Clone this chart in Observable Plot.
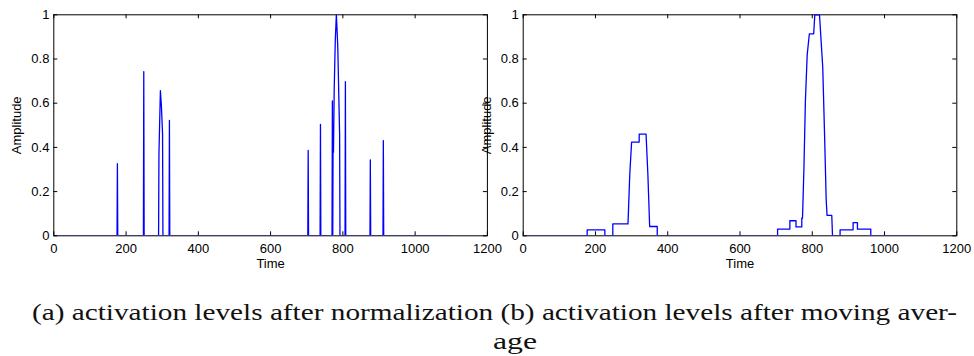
<!DOCTYPE html>
<html>
<head>
<meta charset="utf-8">
<script src="https://cdn.jsdelivr.net/npm/d3@7"></script>
<script src="https://cdn.jsdelivr.net/npm/@observablehq/plot@0.6"></script>
<style>
  html, body { margin: 0; padding: 0; background: white; }
  #wrap { position: relative; width: 974px; height: 356px; overflow: hidden; }
  #wrap > svg { position: absolute; left: 0; top: 0; }
  .cap { position: absolute; white-space: pre; font-family: "Liberation Serif", "Times New Roman", serif;
         font-size: 24px; line-height: 24px; color: #111; transform-origin: 0 0; }
</style>
</head>
<body>
<div id="wrap"></div>
<script>
// ---- data ----
const xTicks = [0, 200, 400, 600, 800, 1000, 1200];
const yTicks = [0, 0.2, 0.4, 0.6, 0.8, 1];

// (a) activation levels after normalization
const timeA = [0, 175, 176, 177, 248, 249, 250, 290, 291, 295, 298, 301, 302, 319, 320, 321,
  703, 704, 705, 737, 738, 739, 770, 771, 772, 773, 774, 776, 779, 782, 784, 786, 791, 792,
  806, 807, 808, 875, 876, 877, 911, 912, 913, 1100];
const ampA = [0, 0, 0.326, 0, 0, 0.743, 0, 0, 0.37, 0.657, 0.582, 0.46, 0, 0, 0.522, 0,
  0, 0.386, 0, 0, 0.504, 0, 0, 0.61, 0, 0.485, 0.378, 0.66, 0.884, 1.0, 0.929, 0.85, 0.46, 0,
  0, 0.698, 0, 0, 0.344, 0, 0, 0.431, 0, 0];

// (b) activation levels after moving average
const timeB = [0, 177, 177, 226, 226, 248, 248, 290, 295, 300, 321, 321, 340, 345, 350, 371, 371,
  704, 704, 738, 738, 755, 755, 771, 771, 773, 777, 781, 786, 792, 804, 807, 820, 829, 834, 838.6, 841, 854, 856,
  877, 877, 913, 913, 925, 925, 962, 962, 1100];
const ampB = [0, 0, 0.027, 0.027, 0, 0, 0.054, 0.054, 0.28, 0.424, 0.424, 0.46, 0.46, 0.28, 0.042, 0.042, 0,
  0, 0.03, 0.03, 0.068, 0.068, 0.04, 0.04, 0.08, 0.08, 0.31, 0.61, 0.82, 0.914, 0.914, 1.0, 1.0, 0.763, 0.46, 0.16, 0.092, 0.092, 0,
  0, 0.027, 0.027, 0.06, 0.06, 0.03, 0.03, 0, 0];

const yLabel = "Amplitude";
const xLabel = "Time";
const captionLine1 = "(a) activation levels after normalization (b) activation levels after moving aver-";
const captionLine2 = "age";

// ---- drawing ----
const W = 974, H = 280, TOP = 14.3, BOTTOM = 44.7;
const fmt = d => String(d);

function panel(times, amps, left, right) {
  const pw = W - left - right, ph = H - TOP - BOTTOM;
  const data = times.map((t, i) => ({t, a: amps[i]}));
  return Plot.plot({
    width: W, height: H,
    marginLeft: left, marginRight: right, marginTop: TOP, marginBottom: BOTTOM,
    style: {background: "transparent", overflow: "visible", color: "black",
            fontFamily: "'Liberation Sans', Arial, sans-serif", fontSize: "13px"},
    x: {domain: [0, 1200]},
    y: {domain: [0, 1]},
    marks: [
      Plot.frame({stroke: "black", strokeWidth: 1}),
      Plot.tickX(xTicks, {x: d => d, stroke: "black", insetTop: ph - 4}),
      Plot.tickX(xTicks, {x: d => d, stroke: "black", insetBottom: ph - 4}),
      Plot.tickY(yTicks, {y: d => d, stroke: "black", insetRight: pw - 4}),
      Plot.tickY(yTicks, {y: d => d, stroke: "black", insetLeft: pw - 4}),
      Plot.axisX({ticks: xTicks, tickSize: 0, tickPadding: 7.5, label: null, tickFormat: fmt, fontSize: 13}),
      Plot.axisY({ticks: yTicks, tickSize: 0, tickPadding: 4.4, label: null, tickFormat: fmt, fontSize: 13}),
      Plot.line(data, {x: "t", y: "a", stroke: "#0000ff", strokeWidth: 1.3, clip: true}),
      Plot.text([yLabel], {text: d => d, frameAnchor: "left", textAnchor: "middle", lineAnchor: "middle",
                           rotate: -90, dx: -36.6, fontSize: 13, fill: "black"}),
      Plot.text([xLabel], {text: d => d, frameAnchor: "bottom", textAnchor: "middle", lineAnchor: "middle",
                           dy: 28, fontSize: 13, fill: "black"})
    ]
  });
}

const wrap = document.getElementById("wrap");
wrap.appendChild(panel(timeA, ampA, 53.3, W - 486.9));
wrap.appendChild(panel(timeB, ampB, 522.7, W - 956.3));

// caption below the plots (HTML text, stretched to the reference line width)
function caption(text, left, top, targetWidth) {
  const d = document.createElement("div");
  d.className = "cap";
  d.textContent = text;
  d.style.left = left + "px";
  d.style.top = top + "px";
  wrap.appendChild(d);
  const w = d.getBoundingClientRect().width;
  d.style.transform = `scaleX(${targetWidth / w})`;
}
caption(captionLine1, 32, 300, 925);
caption(captionLine2, 493, 329, 44);
</script>
</body>
</html>
